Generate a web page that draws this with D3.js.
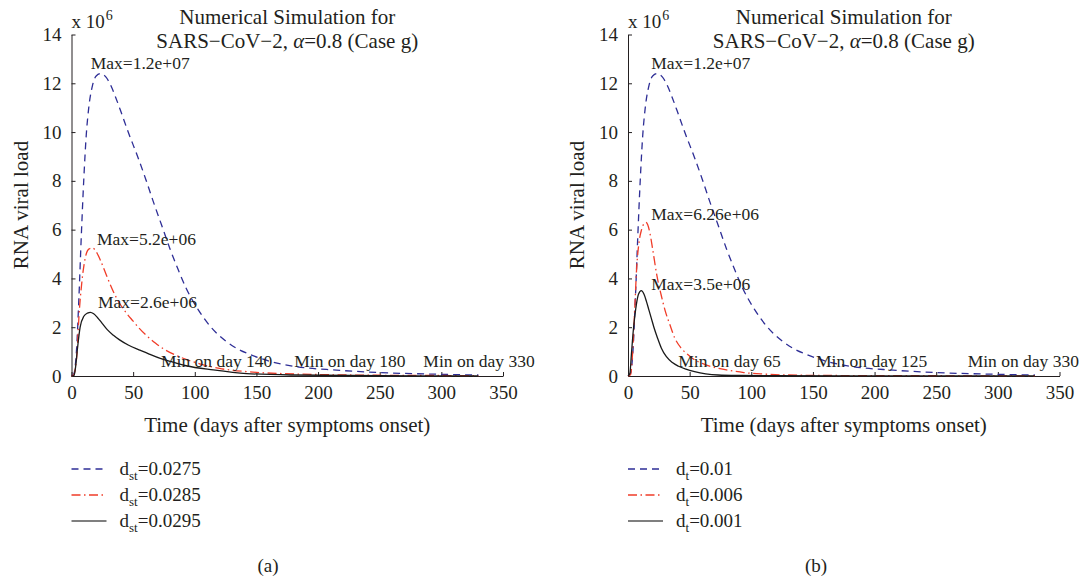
<!DOCTYPE html>
<html lang="en">
<head>
<meta charset="UTF-8">
<title>RNA viral load, Case g</title>
<script src="https://cdnjs.cloudflare.com/ajax/libs/d3/7.8.5/d3.min.js"></script>
<style>
  body { margin: 0; background: #fff; }
  svg text { font-family: "Liberation Serif", "DejaVu Serif", serif; fill: #231f20; }
  .axis path, .axis line { stroke: #231f20; stroke-width: 1; }
  .axis text { font-size: 19px; font-family: "Liberation Serif", serif; }
</style>
</head>
<body>
<div id="chart"></div>
<script>
// values (days, RNA load in units of 1e6)
const tBlue = [0, 2, 4, 6, 8, 10, 12, 14, 17, 20, 24, 28, 32, 36, 40, 46, 54, 60, 66, 73, 80, 87, 93, 103, 114, 126, 137, 143, 161, 180, 215, 250, 300, 330];
const vBlue = [0, 0.1, 1.0, 3.2, 5.8, 8.1, 9.9, 11.0, 11.9, 12.3, 12.4, 12.25, 11.9, 11.4, 10.85, 10.0, 8.95, 8.1, 7.2, 6.2, 5.2, 4.3, 3.6, 2.7, 1.95, 1.4, 1.05, 0.92, 0.6, 0.4, 0.24, 0.14, 0.07, 0.04];

const tRedA = [0, 2, 3, 4.5, 6, 8.5, 11, 14, 17, 20, 23, 27, 31, 35, 40, 45, 50, 55, 61, 68, 75, 88, 104, 120, 142, 170, 200, 250, 300, 330];
const vRedA = [0, 0.05, 0.3, 0.95, 2.4, 3.9, 4.8, 5.2, 5.25, 5.1, 4.8, 4.3, 3.8, 3.35, 2.9, 2.55, 2.25, 1.95, 1.65, 1.35, 1.1, 0.78, 0.5, 0.31, 0.18, 0.1, 0.06, 0.03, 0.02, 0.01];

const tBlackA = [0, 2, 3, 5, 7, 10, 13, 15.3, 18, 21, 25, 29, 34, 39, 46, 56, 63, 72, 80, 93, 115, 142, 180, 250, 330];
const vBlackA = [0, 0.02, 0.25, 1.2, 2.0, 2.45, 2.58, 2.61, 2.55, 2.4, 2.15, 1.9, 1.67, 1.48, 1.27, 1.05, 0.9, 0.72, 0.6, 0.42, 0.25, 0.1, 0.04, 0.01, 0];

const tRedB = [0, 2, 3, 4, 5.5, 7, 9, 11, 13, 14.4, 16, 18, 20, 23.5, 27, 30, 34, 38, 43, 48, 53, 62, 70, 81, 94, 110, 130, 170, 250, 330];
const vRedB = [0, 0.05, 0.4, 1.2, 2.8, 4.4, 5.5, 6.0, 6.25, 6.3, 6.2, 5.8, 5.2, 4.1, 3.3, 2.7, 2.1, 1.55, 1.15, 0.9, 0.7, 0.48, 0.35, 0.24, 0.14, 0.08, 0.04, 0.02, 0.01, 0];

const tBlackB = [0, 1.5, 2.7, 4, 5.4, 7, 8.5, 10.8, 13, 15, 17, 19, 21, 24, 27, 31, 36, 41, 47, 54, 63, 73, 90, 120, 180, 330];
const vBlackB = [0, 0.1, 0.85, 1.7, 2.4, 3.0, 3.35, 3.5, 3.35, 3.05, 2.7, 2.35, 2.0, 1.55, 1.15, 0.8, 0.55, 0.4, 0.28, 0.18, 0.09, 0.04, 0.02, 0.01, 0, 0];

const xTicks = [0, 50, 100, 150, 200, 250, 300, 350];
const yTicks = [0, 2, 4, 6, 8, 10, 12, 14];

const legendA = ["0.0275", "0.0285", "0.0295"];
const legendB = ["0.01", "0.006", "0.001"];

const maxTextA = ["Max=1.2e+07", "Max=5.2e+06", "Max=2.6e+06"];
const maxAtA = [[15.6, 12.6], [20.7, 5.35], [21.5, 2.79]];
const maxTextB = ["Max=1.2e+07", "Max=6.26e+06", "Max=3.5e+06"];
const maxAtB = [[18.9, 12.6], [18.9, 6.4], [18.9, 3.53]];

const minTextA = ["Min on day 140", "Min on day 180", "Min on day 330"];
const minAtA = [[72.6, 0.38], [180.7, 0.38], [285.4, 0.38]];
const minTextB = ["Min on day 65", "Min on day 125", "Min on day 330"];
const minAtB = [[40.8, 0.38], [152.5, 0.38], [275.5, 0.38]];

const W = 1081, H = 581;
const styles = [
  { color: "#2e2e96", dash: "7,5" },
  { color: "#f03c28", dash: "9,3.5,1.5,3.5" },
  { color: "#1a1a1a", dash: null }
];

const svg = d3.select("#chart").append("svg")
  .attr("width", W).attr("height", H)
  .attr("xmlns", "http://www.w3.org/2000/svg");
svg.append("rect").attr("width", W).attr("height", H).attr("fill", "#fff");

function drawPanel(opt) {
  const x = d3.scaleLinear().domain([0, 350]).range([opt.left, opt.left + 431.5]);
  const y = d3.scaleLinear().domain([0, 14]).range([376, 34.5]);
  const g = svg.append("g");

  g.append("g").attr("class", "axis")
    .attr("transform", "translate(0,376)")
    .call(d3.axisBottom(x).tickValues(xTicks).tickSizeInner(-4).tickSizeOuter(0).tickPadding(9.5))
    .attr("font-family", null);
  g.append("g").attr("class", "axis")
    .attr("transform", `translate(${opt.left},0)`)
    .call(d3.axisLeft(y).tickValues(yTicks).tickSizeInner(-4).tickSizeOuter(0).tickPadding(10))
    .attr("font-family", null);

  const line = d3.line()
    .x(d => x(d[0])).y(d => y(d[1]))
    .curve(d3.curveMonotoneX);

  opt.series.forEach((s, i) => {
    g.append("path")
      .datum(d3.zip(s[0], s[1]))
      .attr("d", line)
      .attr("fill", "none")
      .attr("stroke", styles[i].color)
      .attr("stroke-width", 1.3)
      .attr("stroke-dasharray", styles[i].dash);
  });

  // exponent
  const ex = g.append("text").attr("x", opt.left).attr("y", 28.3).style("font-size", "19px");
  ex.append("tspan").text("x 10");
  ex.append("tspan").attr("dy", -8).attr("dx", 1).style("font-size", "14px").text("6");

  // title
  const cx = opt.left + 431.5 / 2;
  g.append("text").attr("x", cx).attr("y", 24).attr("text-anchor", "middle")
    .style("font-size", "21px").text("Numerical Simulation for");
  const t2 = g.append("text").attr("x", cx).attr("y", 48).attr("text-anchor", "middle")
    .style("font-size", "21px");
  t2.append("tspan").text("SARS\u2212CoV\u22122, ");
  t2.append("tspan").style("font-style", "italic").text("\u03b1");
  t2.append("tspan").text("=0.8 (Case g)");

  // axis labels
  g.append("text").attr("x", cx).attr("y", 432).attr("text-anchor", "middle")
    .style("font-size", "21px").text("Time (days after symptoms onset)");
  g.append("text")
    .attr("transform", `translate(${opt.left - 44},205) rotate(-90)`)
    .attr("text-anchor", "middle")
    .style("font-size", "21px").text("RNA viral load");

  // annotations
  opt.maxText.forEach((s, i) => {
    g.append("text").attr("x", x(opt.maxAt[i][0])).attr("y", y(opt.maxAt[i][1]))
      .style("font-size", "17.5px").text(s);
  });
  opt.minText.forEach((s, i) => {
    g.append("text").attr("x", x(opt.minAt[i][0])).attr("y", y(opt.minAt[i][1]))
      .style("font-size", "17.5px").text(s);
  });

  // legend
  opt.legend.forEach((v, i) => {
    const ly = 469 + i * 26;
    g.append("line")
      .attr("x1", opt.left).attr("x2", opt.left + 35)
      .attr("y1", ly).attr("y2", ly)
      .attr("stroke", i === 2 ? "#555" : styles[i].color)
      .attr("stroke-width", 1.3)
      .attr("stroke-dasharray", styles[i].dash);
    const lt = g.append("text").attr("x", opt.left + 48).attr("y", ly + 6)
      .style("font-size", "19px");
    lt.append("tspan").text("d");
    lt.append("tspan").attr("dy", 5).style("font-size", "13px").text(opt.sub);
    lt.append("tspan").attr("dy", -5).text("=" + v);
  });

  g.append("text").attr("x", opt.caption).attr("y", 572).attr("text-anchor", "middle")
    .style("font-size", "19px").text(opt.tag);
}

drawPanel({
  left: 71.5, caption: 268, tag: "(a)", sub: "st", legend: legendA,
  series: [[tBlue, vBlue], [tRedA, vRedA], [tBlackA, vBlackA]],
  maxText: maxTextA, maxAt: maxAtA, minText: minTextA, minAt: minAtA
});
drawPanel({
  left: 628, caption: 816, tag: "(b)", sub: "t", legend: legendB,
  series: [[tBlue, vBlue], [tRedB, vRedB], [tBlackB, vBlackB]],
  maxText: maxTextB, maxAt: maxAtB, minText: minTextB, minAt: minAtB
});
</script>
</body>
</html>
